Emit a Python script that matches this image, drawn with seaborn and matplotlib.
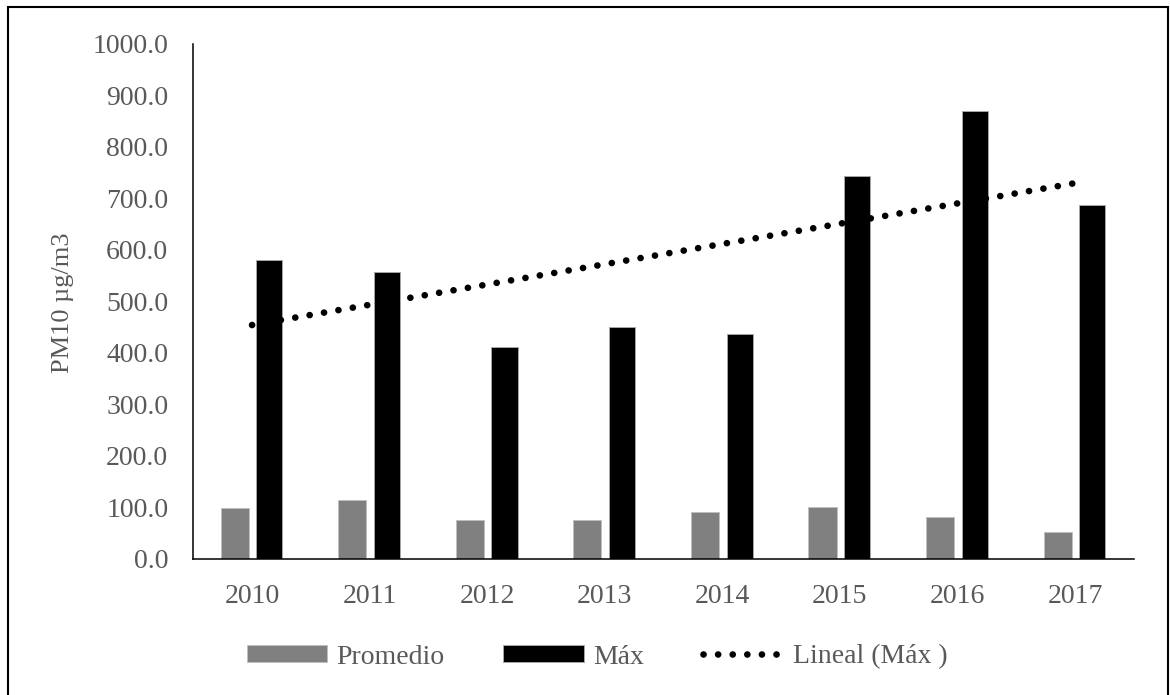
import numpy as np
import pandas as pd
import matplotlib
matplotlib.use("Agg")
import matplotlib.pyplot as plt
import seaborn as sns
from matplotlib.patches import Rectangle, Patch
from matplotlib.lines import Line2D

# PM10 concentrations per year (µg/m3)
years = ["2010", "2011", "2012", "2013", "2014", "2015", "2016", "2017"]
promedio = [99, 113, 76, 76, 90, 100, 80, 52]
maximo = [579, 556, 411, 449, 436, 743, 869, 687]
series_names = ["Promedio", "Máx"]
trend_label = "Lineal (Máx )"
y_ticks = np.arange(0, 1001, 100)

sns.set_theme(style="white")
plt.rcParams["font.family"] = ["Liberation Serif", "DejaVu Serif"]

TEXT = "#595959"
GREY = "#808080"

df = pd.DataFrame({
    "Año": years * 2,
    "Serie": [series_names[0]] * len(years) + [series_names[1]] * len(years),
    "valor": promedio + maximo,
})

fig = plt.figure(figsize=(11.7, 6.95), dpi=100)
fig.patch.set_facecolor("white")
ax = fig.add_axes([0.1652, 0.1961, 0.969 - 0.1652, 0.9374 - 0.1961])

sns.barplot(
    data=df, x="Año", y="valor", hue="Serie",
    palette={series_names[0]: GREY, series_names[1]: "#000000"},
    width=0.59, errorbar=None, saturation=1, legend=False, ax=ax,
)

# narrow the bars while keeping their dodged centres, leaving a small gap
bar_widths = [0.24, 0.222]
edge_colors = ["#c0c0c0", "#a6a6a6"]
for container, w, ec in zip(ax.containers, bar_widths, edge_colors):
    for bar in container:
        cx = bar.get_x() + bar.get_width() / 2
        bar.set_width(w)
        bar.set_x(cx - w / 2)
        bar.set_edgecolor(ec)
        bar.set_linewidth(0.7)

# linear trend of the maxima
xs = np.arange(len(years))
coef = np.polyfit(xs, maximo, 1)
dot_lw = 4.8
dot_style = (0, (0.01, 2.18))
ax.plot([xs[0], xs[-1]], np.polyval(coef, [xs[0], xs[-1]]),
        color="black", lw=dot_lw, linestyle=dot_style,
        dash_capstyle="round", zorder=3)

ax.set_xlim(-0.5, len(years) - 0.5)
ax.set_ylim(0, 1000)
ax.set_yticks(y_ticks)
ax.set_yticklabels([f"{v:.1f}" for v in y_ticks])
ax.tick_params(axis="y", length=0, pad=18, labelsize=20, colors=TEXT)
ax.tick_params(axis="x", length=0, pad=18, labelsize=20, colors=TEXT)
ax.set_xlabel("")
ax.set_ylabel("")

for side in ["top", "right"]:
    ax.spines[side].set_visible(False)
for side in ["left", "bottom"]:
    ax.spines[side].set_color("black")
    ax.spines[side].set_linewidth(1.1)

fig.text(63 / 1170, 1 - 303 / 695, "PM10 µg/m3", rotation=90,
         ha="center", va="center", fontsize=19, color=TEXT)

handles = [
    Patch(facecolor=GREY, edgecolor="#c0c0c0", linewidth=0.7),
    Patch(facecolor="black", edgecolor="#a6a6a6", linewidth=0.7),
    Line2D([], [], color="black", lw=dot_lw, linestyle=dot_style,
           dash_capstyle="round"),
]
fig.legend(handles, series_names + [trend_label], loc="center",
           bbox_to_anchor=(597 / 1170, 1 - 657 / 695), ncol=3,
           frameon=False, fontsize=20, handlelength=2.9, handleheight=0.58,
           handletextpad=0.33, columnspacing=2.12, labelcolor=TEXT)

# outer border of the chart area
fig.add_artist(Rectangle((7.5 / 1170, -0.05), (1168.3 - 7.5) / 1170,
                         0.99036 + 0.05, transform=fig.transFigure,
                         fill=False, edgecolor="black", linewidth=1.5,
                         clip_on=False))

fig.savefig("out.png", dpi=100)
